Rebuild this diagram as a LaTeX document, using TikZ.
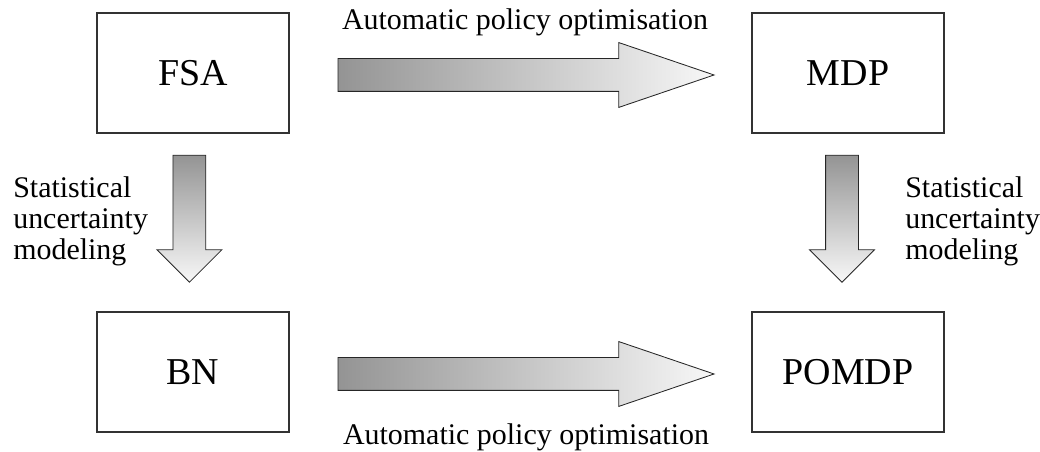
\documentclass[tikz,border=0pt]{standalone}
\usepackage{fontspec}
\setmainfont{Liberation Serif}
\usetikzlibrary{shapes}

\begin{document}
\begin{tikzpicture}[scale=1.0]
\useasboundingbox (0,0) rectangle (26,11.3);
\begin{scope}
\tikzstyle{box}=[draw=black!80, line width=1.1pt, minimum width=4.8cm, minimum height=3cm, inner sep=0pt, font=\fontsize{27}{32}\selectfont];
\tikzstyle{blockarrow}=[single arrow, draw=black!85, line width=0.6pt, inner xsep=0pt, inner ysep=0.4cm, single arrow head extend=0.4cm];
\tikzstyle{harrow}=[blockarrow, minimum height=9.4cm, single arrow tip angle=37.6, left color=black!42, right color=black!3];
\tikzstyle{varrow}=[blockarrow, minimum height=3.175cm, single arrow tip angle=90, rotate=-90, top color=black!42, bottom color=black!3];
\tikzstyle{lbl}=[inner sep=0pt, font=\fontsize{21.3}{22.4}\selectfont];

\draw (4.825,9.475) node[box] (fsa) {FSA};
\draw (21.2,9.475) node[box] (mdp) {MDP};
\draw (4.825,2.0) node[box] (bn) {BN};
\draw (21.2,2.0) node[box] (pomdp) {POMDP};

\path (fsa) -- node[xshift=-4.65mm, yshift=-0.5mm, harrow] (fsa2mdp) {} (mdp);
\path (bn) -- node[xshift=-4.65mm, yshift=-0.5mm, harrow] (bn2pomdp) {} (pomdp);
\path (fsa) -- node[xshift=-0.9mm, yshift=3mm, varrow] (fsa2bn) {} (bn);
\path (mdp) -- node[xshift=-1.5mm, yshift=3mm, varrow] (mdp2pomdp) {} (pomdp);

\draw (13.125,10.55) node[lbl, anchor=base] (opttop) {Automatic policy optimisation};
\draw (13.15,0.175) node[lbl, anchor=base] (optbot) {Automatic policy optimisation};
\draw (0.325,4.8) node[lbl, anchor=base west, align=left] (statleft) {Statistical\\uncertainty\\modeling};
\draw (22.625,4.8) node[lbl, anchor=base west, align=left] (statright) {Statistical\\uncertainty\\modeling};
\end{scope}
\end{tikzpicture}
\end{document}
